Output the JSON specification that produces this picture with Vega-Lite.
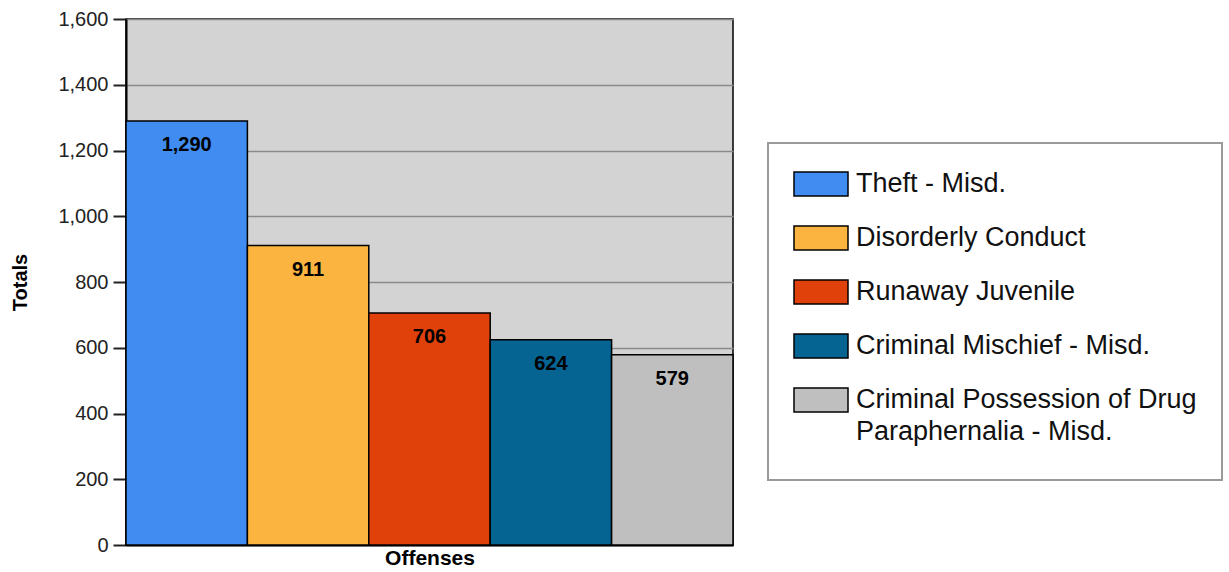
{
  "$schema": "https://vega.github.io/schema/vega-lite/v6.json",
  "width": 607,
  "height": 526,
  "autosize": {"type": "none"},
  "padding": {"left": 126, "top": 19, "right": 496, "bottom": 27},
  "background": "white",
  "config": {
    "font": "Liberation Sans",
    "view": {"fill": "#d3d3d3", "stroke": "#000", "strokeWidth": 1.5}
  },
  "data": {
    "values": [
      {"offense": "Theft - Misd.", "total": 1290},
      {"offense": "Disorderly Conduct", "total": 911},
      {"offense": "Runaway Juvenile", "total": 706},
      {"offense": "Criminal Mischief - Misd.", "total": 624},
      {"offense": "Criminal Possession of Drug Paraphernalia - Misd.", "total": 579}
    ]
  },
  "encoding": {
    "x": {
      "field": "offense",
      "type": "nominal",
      "sort": null,
      "scale": {"paddingInner": 0, "paddingOuter": 0},
      "axis": {
        "title": "Offenses",
        "labels": false,
        "ticks": false,
        "domainColor": "#000",
        "domainWidth": 2,
        "titleFontSize": 21,
        "titleFontWeight": "bold",
        "titleColor": "#000",
        "titlePadding": 2
      }
    },
    "y": {
      "field": "total",
      "type": "quantitative",
      "scale": {"domain": [0, 1600], "nice": false},
      "axis": {
        "values": [0, 200, 400, 600, 800, 1000, 1200, 1400, 1600],
        "format": ",d",
        "grid": true,
        "gridColor": "#8a8a8a",
        "gridWidth": 1.5,
        "domainColor": "#000",
        "domainWidth": 2,
        "tickColor": "#222",
        "tickSize": 13,
        "tickWidth": 2,
        "labelPadding": 5,
        "labelFontSize": 20,
        "labelColor": "#222",
        "labelFlush": false,
        "labelOverlap": false,
        "title": "Totals",
        "titleFontSize": 20,
        "titleFontWeight": "bold",
        "titleColor": "#000",
        "titleX": -106,
        "titleY": 263,
        "titleAngle": -90,
        "titleAlign": "center",
        "titleBaseline": "middle"
      }
    }
  },
  "layer": [
    {
      "mark": {"type": "bar", "stroke": "#000", "strokeWidth": 1.5, "opacity": 1},
      "encoding": {
        "color": {
          "field": "offense",
          "type": "nominal",
          "sort": null,
          "scale": {
            "domain": ["Theft - Misd.", "Disorderly Conduct", "Runaway Juvenile", "Criminal Mischief - Misd.", "Criminal Possession of Drug Paraphernalia - Misd."],
            "range": ["#418CF0", "#FCB441", "#E0400A", "#056492", "#BFBFBF"]
          },
          "legend": {
            "title": " ",
            "titleOrient": "bottom",
            "titleFontSize": 8,
            "titlePadding": 2,
            "orient": "none",
            "legendX": 642,
            "legendY": 124,
            "symbolType": "M-1,-0.44H1V0.44H-1Z",
            "symbolSize": 2916,
            "symbolStrokeColor": "#000",
            "symbolStrokeWidth": 1.5,
            "symbolOpacity": 1,
            "clipHeight": 32,
            "labelFontSize": 27,
            "labelColor": "#111",
            "labelOffset": 7,
            "labelLimit": 600,
            "rowPadding": 22,
            "padding": 25,
            "strokeColor": "#9a9a9a",
            "fillColor": "#fff",
            "labelExpr": "datum.label == 'Criminal Possession of Drug Paraphernalia - Misd.' ? ['Criminal Possession of Drug', 'Paraphernalia - Misd.'] : datum.label",
            "encode": {
              "labels": {"update": {"lineHeight": {"value": 32}}},
              "legend": {"update": {"strokeWidth": {"value": 2}}}
            }
          }
        }
      }
    },
    {
      "mark": {"type": "text", "baseline": "middle", "dy": 24, "fontSize": 20, "fontWeight": "bold", "color": "#000"},
      "encoding": {
        "text": {"field": "total", "type": "quantitative", "format": ","}
      }
    }
  ]
}
